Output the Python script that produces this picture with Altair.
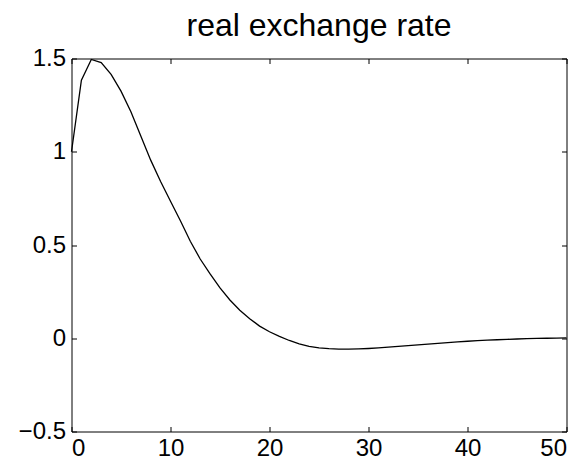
import altair as alt
import pandas as pd

t = list(range(51))
v = [1.000, 1.384, 1.495, 1.478, 1.415, 1.325, 1.215, 1.085, 0.955, 0.84,
     0.735, 0.63, 0.52, 0.425, 0.345, 0.27, 0.205, 0.15, 0.105, 0.065,
     0.035, 0.01, -0.012, -0.03, -0.043, -0.052, -0.056, -0.058, -0.058, -0.057,
     -0.055, -0.052, -0.048, -0.044, -0.04, -0.035, -0.031, -0.027, -0.023, -0.019,
     -0.016, -0.013, -0.01, -0.008, -0.006, -0.004, -0.002, -0.001, 0.0, 0.001,
     0.002]
x_ticks = [0, 10, 20, 30, 40, 50]
y_ticks = [-0.5, 0, 0.5, 1, 1.5]
title_text = "real exchange rate"

df = pd.DataFrame({"t": t, "v": v})

FONT = "Liberation Sans"
xs = alt.Scale(domain=[0, 50], nice=False, zero=False)
ys = alt.Scale(domain=[-0.5, 1.5], nice=False, zero=False)

common = dict(offset=-5, tickSize=5, domain=False, grid=False, tickColor="black",
              tickWidth=1, title=None, labelFont=FONT, labelFontSize=24,
              labelColor="black")

base = alt.Chart(df)

line = base.mark_line(color="black", strokeWidth=1.3).encode(
    x=alt.X("t:Q", scale=xs,
            axis=alt.Axis(orient="bottom", values=x_ticks, format="d",
                          labelPadding=5, **common)),
    y=alt.Y("v:Q", scale=ys,
            axis=alt.Axis(orient="left", values=y_ticks, format="~g",
                          labelPadding=6, **common)),
)

frame = base.mark_line(opacity=0).encode(
    x=alt.X("t:Q", scale=xs,
            axis=alt.Axis(orient="top", values=x_ticks, labels=False, **common)),
    y=alt.Y("v:Q", scale=ys,
            axis=alt.Axis(orient="right", values=y_ticks, labels=False, **common)),
)

chart = alt.layer(line, frame).resolve_axis(x="independent", y="independent").properties(
    width=495,
    height=373,
    autosize=alt.AutoSizeParams(type="none"),
    padding={"left": 63.5, "top": 50.5, "right": 11, "bottom": 29},
    title=alt.TitleParams(title_text, font=FONT, fontSize=32, fontWeight="normal",
                          color="black", anchor="middle", offset=4),
).configure(background="white").configure_view(stroke="black", strokeWidth=1)

chart.save("out.html", embed_options={"renderer": "svg", "actions": False})
